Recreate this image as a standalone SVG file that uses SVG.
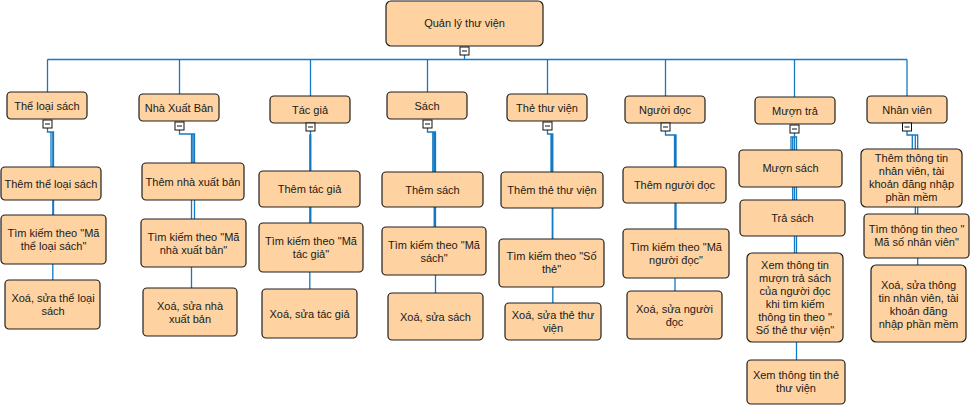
<svg xmlns="http://www.w3.org/2000/svg" width="970" height="405" viewBox="0 0 970 405">
<style>
.n{fill:#FFD3A1;stroke:#1e1e1e;stroke-width:1.2}
.t{font-family:"Liberation Sans",Arial,sans-serif;font-size:11px;fill:#1a1a1a;text-anchor:middle}
.c{fill:none;stroke:#1479C2;stroke-width:1.3}
.b{fill:#fff;stroke:#111;stroke-width:1}
.m{stroke:#111;stroke-width:1}
</style>
<rect width="970" height="405" fill="#fff"/>
<g id="connectors">
<path class="c" d="M464.5 55V59.5M47.5 59.5H907"/>
<path class="c" d="M47.5 59.5V92M179.5 59.5V94M310.5 59.5V96M427.5 59.5V92M547.5 59.5V94M665.5 59.5V96M794.5 59.5V97M907 59.5V96"/>
<!-- col1 -->
<path class="c" d="M47.5 128V132H51V167M47.5 128V132H53.5V215M47.5 128V132H52.8V280"/>
<!-- col2 -->
<path class="c" d="M179.5 130V134H193V163M179.5 130V134H194.5V219M179.5 130V134H191.5V288"/>
<!-- col3 -->
<path class="c" d="M310.5 131V135H309.8V171M310.5 131V135H310.8V223M310.5 131V135H309.8V289"/>
<!-- col4 -->
<path class="c" d="M427.5 128V132H432.8V172M427.5 128V132H434.2V227M427.5 128V132H435.5V293"/>
<!-- col5 -->
<path class="c" d="M547.5 130V134H551V172M547.5 130V134H552.3V239M547.5 130V134H552.8V303"/>
<!-- col6 -->
<path class="c" d="M665.5 131V135H674.5V167M665.5 131V135H676V229M665.5 131V135H675V291"/>
<!-- col7 -->
<path class="c" d="M794.5 133V137H791V150M794.5 133V137H792.7V200M794.5 133V137H794.5V253M794.5 133V137H796.5V360"/>
<!-- col8 -->
<path class="c" d="M907 131V135H912.3V149M907 131V135H915.3V214M907 131V135H917.7V265"/>
</g>
<g id="root">
<rect class="n" x="386" y="1" width="157" height="45" rx="5"/>
<text class="t" x="464.5" y="27">Quản lý thư viện</text>
<rect class="b" x="460" y="47" width="9" height="8"/><path class="m" d="M462 51H467"/>
</g>
<g id="the-loai-sach">
<rect class="n" x="7" y="92" width="80" height="27" rx="4"/>
<text class="t" x="47" y="109.5">Thể loại sách</text>
<rect class="b" x="43" y="120" width="9" height="8"/><path class="m" d="M45 124H50"/>
</g>
<g id="nha-xuat-ban">
<rect class="n" x="139" y="94" width="80" height="27" rx="4"/>
<text class="t" x="179" y="111.5">Nhà Xuất Bản</text>
<rect class="b" x="175" y="122" width="9" height="8"/><path class="m" d="M177 126H182"/>
</g>
<g id="tac-gia">
<rect class="n" x="270" y="96" width="80" height="27" rx="4"/>
<text class="t" x="310" y="113.5">Tác giả</text>
<rect class="b" x="306" y="123" width="9" height="8"/><path class="m" d="M308 127H313"/>
</g>
<g id="sach">
<rect class="n" x="387" y="92" width="80" height="27" rx="4"/>
<text class="t" x="427" y="109.5">Sách</text>
<rect class="b" x="423" y="120" width="9" height="8"/><path class="m" d="M425 124H430"/>
</g>
<g id="the-thu-vien">
<rect class="n" x="507" y="94" width="80" height="27" rx="4"/>
<text class="t" x="547" y="111.5">Thẻ thư viện</text>
<rect class="b" x="543" y="122" width="9" height="8"/><path class="m" d="M545 126H550"/>
</g>
<g id="nguoi-doc">
<rect class="n" x="625" y="96" width="80" height="27" rx="4"/>
<text class="t" x="665" y="113.5">Người đọc</text>
<rect class="b" x="661" y="123" width="9" height="8"/><path class="m" d="M663 127H668"/>
</g>
<g id="muon-tra">
<rect class="n" x="755" y="97" width="80" height="27" rx="4"/>
<text class="t" x="795" y="114.5">Mượn trả</text>
<rect class="b" x="790" y="125" width="9" height="8"/><path class="m" d="M792 129H797"/>
</g>
<g id="nhan-vien">
<rect class="n" x="867" y="96" width="80" height="27" rx="4"/>
<text class="t" x="907" y="113.5">Nhân viên</text>
<rect class="b" x="902.5" y="123" width="9" height="8"/><path class="m" d="M904.5 127H909.5"/>
</g>
<g id="them-the-loai">
<rect class="n" x="1" y="167" width="100" height="33" rx="4"/>
<text class="t" x="51" y="187.5">Thêm thể loại sách</text>
</g>
<g id="tim-the-loai">
<rect class="n" x="1" y="215" width="105" height="49" rx="4"/>
<text class="t" x="53.5" y="237">Tìm kiếm theo "Mã</text>
<text class="t" x="53.5" y="250">thể loại sách"</text>
</g>
<g id="xoa-the-loai">
<rect class="n" x="5" y="280" width="95" height="49" rx="4"/>
<text class="t" x="53" y="302">Xoá, sửa thể loại</text>
<text class="t" x="53" y="315">sách</text>
</g>
<g id="them-nxb">
<rect class="n" x="142" y="163" width="102" height="37" rx="4"/>
<text class="t" x="193" y="185.5">Thêm nhà xuất bản</text>
</g>
<g id="tim-nxb">
<rect class="n" x="141" y="219" width="105" height="48" rx="4"/>
<text class="t" x="193.5" y="240.5">Tìm kiếm theo "Mã</text>
<text class="t" x="193.5" y="253.5">nhà xuất bản"</text>
</g>
<g id="xoa-nxb">
<rect class="n" x="143" y="288" width="94" height="48" rx="4"/>
<text class="t" x="190" y="309.5">Xoá, sửa nhà</text>
<text class="t" x="190" y="322.5">xuất bản</text>
</g>
<g id="them-tac-gia">
<rect class="n" x="259" y="171" width="101" height="36" rx="4"/>
<text class="t" x="309.5" y="192.5">Thêm tác giả</text>
</g>
<g id="tim-tac-gia">
<rect class="n" x="259" y="223" width="104" height="49" rx="4"/>
<text class="t" x="311" y="245">Tìm kiếm theo "Mã</text>
<text class="t" x="311" y="258">tác giả"</text>
</g>
<g id="xoa-tac-gia">
<rect class="n" x="262" y="289" width="95" height="49" rx="4"/>
<text class="t" x="309.5" y="317.5">Xoá, sửa tác giả</text>
</g>
<g id="them-sach">
<rect class="n" x="382" y="172" width="101" height="35" rx="4"/>
<text class="t" x="432.5" y="193.5">Thêm sách</text>
</g>
<g id="tim-sach">
<rect class="n" x="382" y="227" width="104" height="48" rx="4"/>
<text class="t" x="434" y="248.5">Tìm kiếm theo "Mã</text>
<text class="t" x="434" y="261.5">sách"</text>
</g>
<g id="xoa-sach">
<rect class="n" x="388" y="293" width="95" height="47" rx="4"/>
<text class="t" x="435.5" y="321">Xoá, sửa sách</text>
</g>
<g id="them-the">
<rect class="n" x="501" y="172" width="102" height="36" rx="4"/>
<text class="t" x="552" y="193.5">Thêm thẻ thư viện</text>
</g>
<g id="tim-the">
<rect class="n" x="499" y="239" width="105" height="48" rx="4"/>
<text class="t" x="551.5" y="259.5">Tìm kiếm theo "Số</text>
<text class="t" x="551.5" y="272.5">thẻ"</text>
</g>
<g id="xoa-the">
<rect class="n" x="505" y="303" width="96" height="37" rx="4"/>
<text class="t" x="553" y="319">Xoá, sửa thẻ thư</text>
<text class="t" x="553" y="332">viện</text>
</g>
<g id="them-nguoi-doc">
<rect class="n" x="623" y="167" width="103" height="36" rx="4"/>
<text class="t" x="674.5" y="188.5">Thêm người đọc</text>
</g>
<g id="tim-nguoi-doc">
<rect class="n" x="623" y="229" width="106" height="49" rx="4"/>
<text class="t" x="676" y="251">Tìm kiếm theo "Mã</text>
<text class="t" x="676" y="264">người đọc"</text>
</g>
<g id="xoa-nguoi-doc">
<rect class="n" x="627" y="291" width="95" height="48" rx="4"/>
<text class="t" x="674.5" y="312.5">Xoá, sửa người</text>
<text class="t" x="674.5" y="325.5">đọc</text>
</g>
<g id="muon-sach">
<rect class="n" x="739" y="150" width="103" height="37" rx="4"/>
<text class="t" x="790.5" y="172">Mượn sách</text>
</g>
<g id="tra-sach">
<rect class="n" x="740" y="200" width="105" height="36" rx="4"/>
<text class="t" x="792.5" y="222">Trả sách</text>
</g>
<g id="xem-muon-tra">
<rect class="n" x="747" y="253" width="96" height="89" rx="5"/>
<text class="t" x="795" y="269">Xem thông tin</text>
<text class="t" x="795" y="282">mượn trả sách</text>
<text class="t" x="795" y="295">của người đọc</text>
<text class="t" x="795" y="308">khi tìm kiếm</text>
<text class="t" x="795" y="321">thông tin theo "</text>
<text class="t" x="795" y="334">Số thẻ thư viện"</text>
</g>
<g id="xem-the">
<rect class="n" x="747" y="360" width="98" height="44" rx="4"/>
<text class="t" x="796" y="379">Xem thông tin thẻ</text>
<text class="t" x="796" y="392">thư viện</text>
</g>
<g id="them-nhan-vien">
<rect class="n" x="861" y="149" width="101" height="58" rx="5"/>
<text class="t" x="911.5" y="162">Thêm thông tin</text>
<text class="t" x="911.5" y="175">nhân viên, tài</text>
<text class="t" x="911.5" y="188">khoản đăng nhập</text>
<text class="t" x="911.5" y="201">phần mềm</text>
</g>
<g id="tim-nhan-vien">
<rect class="n" x="864" y="214" width="105" height="44" rx="4"/>
<text class="t" x="916.5" y="233">Tìm thông tin theo "</text>
<text class="t" x="916.5" y="246">Mã số nhân viên"</text>
</g>
<g id="xoa-nhan-vien">
<rect class="n" x="871" y="265" width="95" height="77" rx="5"/>
<text class="t" x="918.5" y="289">Xoá, sửa  thông</text>
<text class="t" x="918.5" y="302">tin nhân viên, tài</text>
<text class="t" x="918.5" y="315">khoản đăng</text>
<text class="t" x="918.5" y="328">nhập phần mềm</text>
</g>
</svg>
